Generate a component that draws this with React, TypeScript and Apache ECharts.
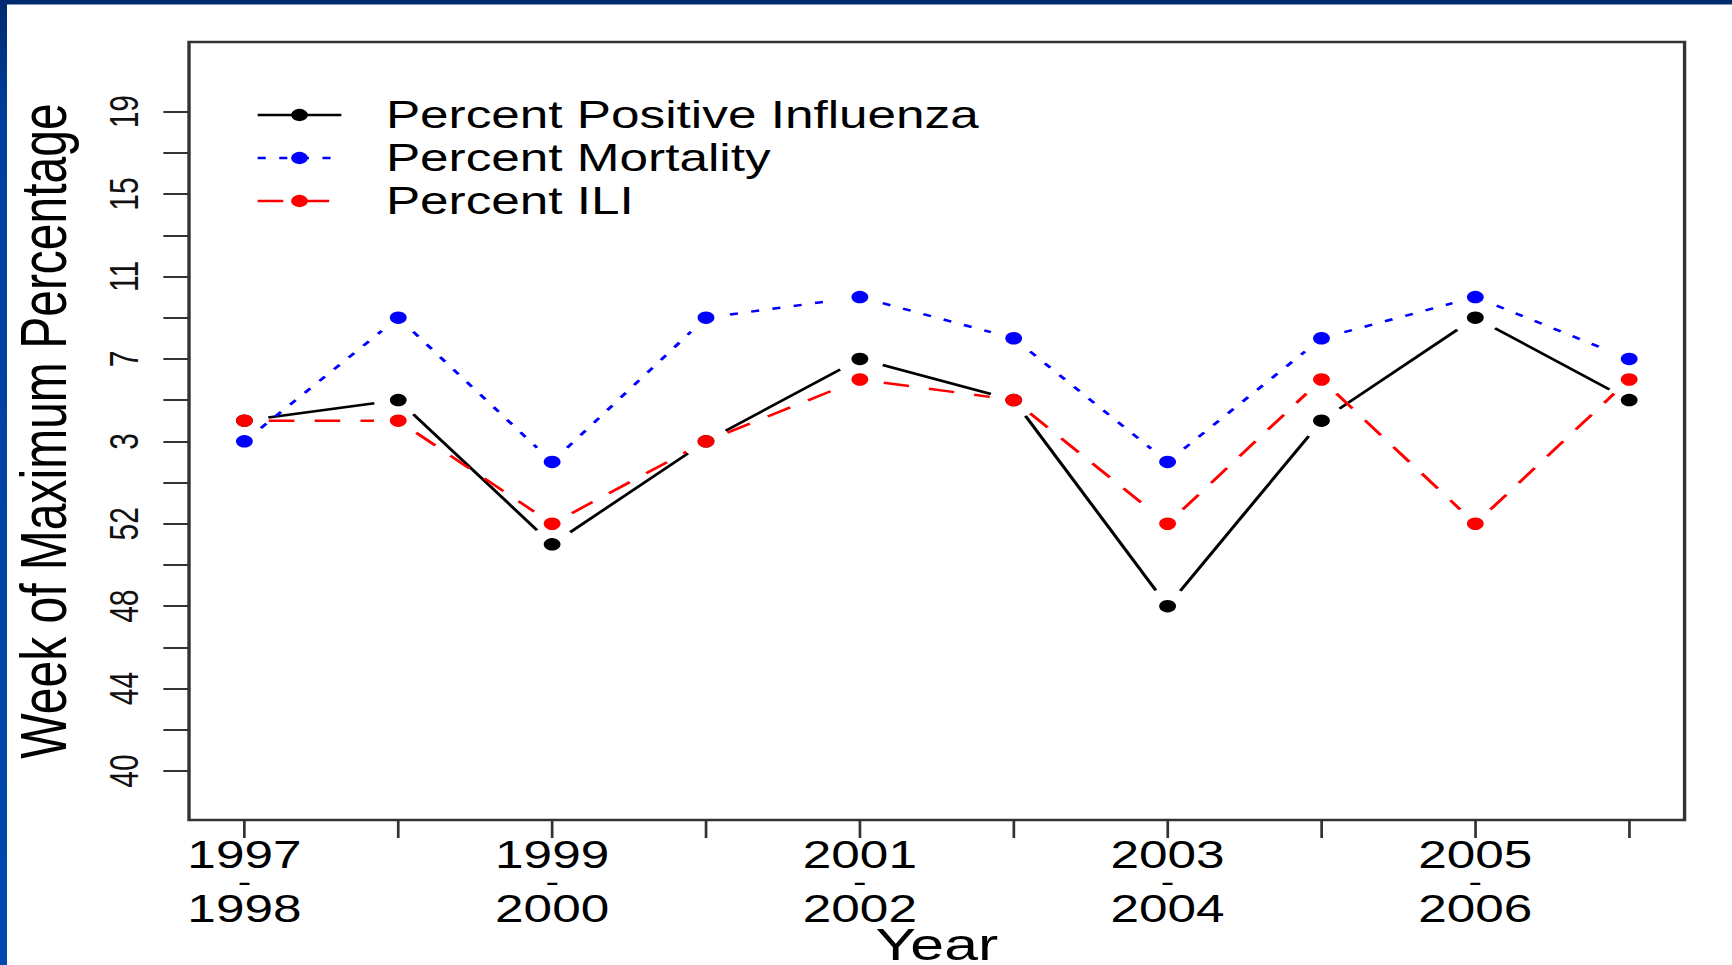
import React, { useEffect, useRef } from "react";
import * as echarts from "echarts";

// ---- data (week numbers) ----
const seasonStart = ["1997", "1998", "1999", "2000", "2001", "2002", "2003", "2004", "2005", "2006"];
const seasonEnd = ["1998", "1999", "2000", "2001", "2002", "2003", "2004", "2005", "2006", "2007"];
const labeledSeasonIndex = [0, 2, 4, 6, 8];
const seriesNames = ["Percent Positive Influenza", "Percent Mortality", "Percent ILI"];
const positiveInfluenzaWeek = [4, 5, 51, 3, 7, 5, 48, 4, 9, 5];
const mortalityWeek = [3, 9, 2, 9, 10, 8, 2, 8, 10, 7];
const iliWeek = [4, 4, 52, 3, 6, 5, 52, 6, 52, 6];
const yLabelWeeks = [40, 44, 48, 52, 3, 7, 11, 15, 19];
const yTickWeeks = [40, 42, 44, 46, 48, 50, 52, 1, 3, 5, 7, 9, 11, 13, 15, 17, 19];

// week of season -> continuous axis value (weeks 1.. follow week 53)
const toAxis = (w: number) => (w < 40 ? w + 53 : w);
const fromAxis = (v: number) => (v > 53 ? v - 53 : v);

const STRETCH = 1.35;
const FULL_W = 1732;
const FULL_H = 965;
const INNER_W = FULL_W / STRETCH;
const FONT = "'Liberation Sans', Arial, Helvetica, sans-serif";
const GAP = 18;

const styles = [
  { color: "#000000", dash: [] as number[], legendType: "solid" as any },
  { color: "#0000ff", dash: [6, 10], legendType: [6, 10] as any },
  { color: "#ff0000", dash: [19, 15], legendType: [19, 15] as any },
];

function makeSegments(name: string, values: number[], color: string, dash: number[]) {
  return {
    type: "custom",
    name: name + " segments",
    silent: true,
    z: 2,
    data: values.map((v, i) => [i, v]),
    encode: { x: 0, y: 1 },
    renderItem: (params: any, api: any) => {
      const i = params.dataIndex;
      if (i >= values.length - 1) return { type: "group", children: [] };
      const p1 = api.coord([i, values[i]]);
      const p2 = api.coord([i + 1, values[i + 1]]);
      const dx = p2[0] - p1[0];
      const dy = p2[1] - p1[1];
      const len = Math.hypot(dx, dy);
      if (len <= 2 * GAP) return { type: "group", children: [] };
      const ux = dx / len;
      const uy = dy / len;
      return {
        type: "line",
        shape: {
          x1: p1[0] + ux * GAP,
          y1: p1[1] + uy * GAP,
          x2: p2[0] - ux * GAP,
          y2: p2[1] - uy * GAP,
        },
        style: {
          stroke: color,
          lineWidth: 2.5,
          lineDash: dash.length ? dash : null,
          fill: null,
        },
      };
    },
  };
}

export default function App() {
  const ref = useRef<HTMLDivElement>(null);

  useEffect(() => {
    if (!ref.current) return;
    const chart = echarts.init(ref.current, null, { renderer: "svg" });
    const allWeeks = [positiveInfluenzaWeek, mortalityWeek, iliWeek];
    const axisValues = allWeeks.map((arr) => arr.map(toAxis));

    const pointSeries = axisValues.map((vals, k) => ({
      type: "line",
      name: seriesNames[k],
      data: vals.map((v, i) => [i, v]),
      symbol: "circle",
      symbolSize: 12.5,
      showSymbol: true,
      z: 3,
      lineStyle: { opacity: 0, width: 0 },
      itemStyle: { color: styles[k].color },
      emphasis: { disabled: true },
      silent: true,
    }));
    const segSeries = axisValues.map((vals, k) =>
      makeSegments(seriesNames[k], vals, styles[k].color, styles[k].dash)
    );

    chart.setOption({
      animation: false,
      backgroundColor: "#ffffff",
      textStyle: { fontFamily: FONT },
      graphic: [
        {
          type: "rect",
          left: 0,
          top: 0,
          shape: { width: INNER_W, height: 4.5 },
          style: { fill: "#002a6e" },
          z: 10,
        },
        {
          type: "rect",
          left: 0,
          top: 0,
          shape: { width: 7 / STRETCH, height: FULL_H },
          style: {
            fill: new echarts.graphic.LinearGradient(0, 0, 0, 1, [
              { offset: 0, color: "#002a6e" },
              { offset: 0.12, color: "#003f9c" },
              { offset: 1, color: "#0049ad" },
            ]),
          },
          z: 10,
        },
      ],
      grid: {
        left: 140,
        right: INNER_W - 1247.8,
        top: 42,
        bottom: FULL_H - 820,
        show: true,
        borderColor: "#333333",
        borderWidth: 2.5,
        backgroundColor: "transparent",
        containLabel: false,
        outerBoundsMode: "none",
      },
      legend: {
        orient: "vertical",
        left: 189.6,
        top: 93.5,
        padding: 0,
        itemGap: 0,
        itemWidth: 62,
        itemHeight: 15.5,
        selectedMode: false,
        textStyle: {
          fontFamily: FONT,
          fontSize: 38,
          lineHeight: 43,
          color: "#000000",
          padding: [0, 0, 0, 28],
        },
        data: seriesNames.map((n, k) => ({
          name: n,
          lineStyle: {
            color: styles[k].color,
            width: 2.5,
            type: styles[k].legendType,
            opacity: 1,
          },
          itemStyle: { color: styles[k].color, opacity: 1 },
        })),
      },
      xAxis: {
        type: "value",
        min: -0.36,
        max: 9.36,
        name: "Year",
        nameLocation: "middle",
        nameGap: 102,
        nameMoveOverlap: false,
        nameTextStyle: { fontFamily: FONT, fontSize: 45, color: "#000000" },
        axisLine: { show: false, onZero: false },
        splitLine: { show: false },
        axisTick: {
          show: true,
          length: 18,
          lineStyle: { color: "#333333", width: 2 },
          customValues: seasonStart.map((_, i) => i),
        },
        axisLabel: {
          customValues: labeledSeasonIndex,
          formatter: (v: number) => {
            const i = Math.round(v);
            return `{y|${seasonStart[i]}}\n{h|-}\n{y|${seasonEnd[i]}}`;
          },
          margin: 21,
          rich: {
            y: { fontFamily: FONT, fontSize: 38, lineHeight: 28, color: "#000000" },
            h: { fontFamily: FONT, fontSize: 30, lineHeight: 26, color: "#000000" },
          },
        },
      },
      yAxis: {
        type: "value",
        min: 37.62,
        max: 75.38,
        name: "Week of Maximum Percentage",
        nameLocation: "middle",
        nameRotate: 90,
        nameGap: 84,
        nameMoveOverlap: false,
        nameTextStyle: { fontFamily: FONT, fontSize: 48, color: "#000000" },
        axisLine: { show: false, onZero: false },
        splitLine: { show: false },
        axisTick: {
          show: true,
          length: 19,
          lineStyle: { color: "#333333", width: 2 },
          customValues: yTickWeeks.map(toAxis),
        },
        axisLabel: {
          customValues: yLabelWeeks.map(toAxis),
          formatter: (v: number) => String(fromAxis(Math.round(v))),
          rotate: 90,
          margin: 33,
          fontFamily: FONT,
          fontSize: 30,
          color: "#111111",
        },
      },
      series: [...segSeries, ...pointSeries],
    } as any);

    return () => chart.dispose();
  }, []);

  return (
    <div
      style={{
        position: "fixed",
        left: 0,
        top: 0,
        width: FULL_W,
        height: FULL_H,
        overflow: "hidden",
        background: "#ffffff",
      }}
    >
      <div
        ref={ref}
        style={{
          width: INNER_W,
          height: FULL_H,
          transform: `scaleX(${STRETCH})`,
          transformOrigin: "0 0",
        }}
      />
    </div>
  );
}
